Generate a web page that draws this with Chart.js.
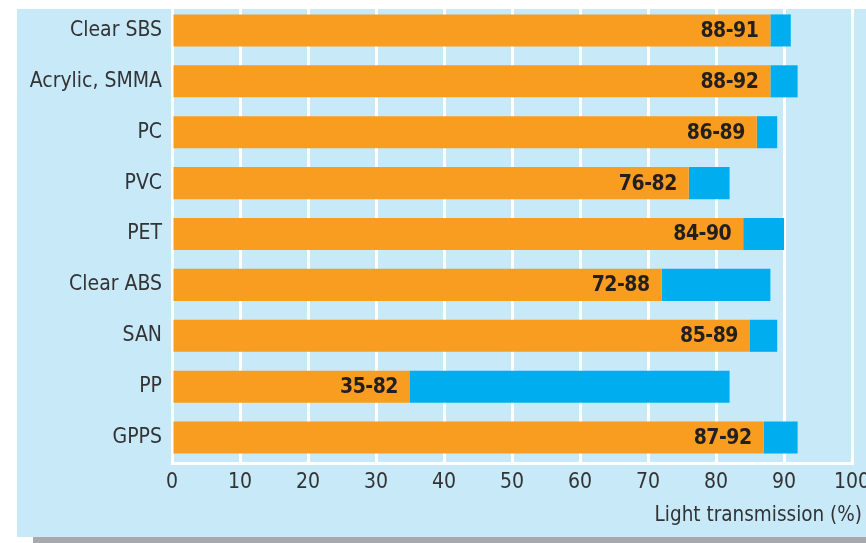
<!DOCTYPE html>
<html>
<head>
<meta charset="utf-8">
<script src="https://cdn.jsdelivr.net/npm/chart.js@4"></script>
<style>
    html, body { margin: 0; padding: 0; background: #fff; overflow: hidden; width: 866px; height: 543px; }
    #panel { position: absolute; left: 17px; top: 9px; width: 870px; height: 528px; background: #c7e9f8; }
    #shadow { position: absolute; left: 33px; top: 537px; width: 860px; height: 6px; background: #a7a9ac; }
    #wrap { position: absolute; left: 0; top: 0; width: 880px; height: 543px; }
</style>
</head>
<body>
<div id="panel"></div>
<div id="shadow"></div>
<div id="wrap"><canvas id="LightChart"></canvas></div>
<script>
const materials = ['Clear SBS', 'Acrylic, SMMA', 'PC', 'PVC', 'PET', 'Clear ABS', 'SAN', 'PP', 'GPPS'];
const lowValues = [88, 88, 86, 76, 84, 72, 85, 35, 87];
const highValues = [91, 92, 89, 82, 90, 88, 89, 82, 92];
const xTicks = [0, 10, 20, 30, 40, 50, 60, 70, 80, 90, 100];

const FONT = '"DejaVu Sans Condensed", "Liberation Sans Narrow", sans-serif';

// range labels like "88-91" drawn at the end of the orange bar
const rangeLabels = {
    id: 'rangeLabels',
    afterDatasetsDraw(chart) {
        const ctx = chart.ctx;
        const x = chart.scales.x;
        const meta = chart.getDatasetMeta(0);
        ctx.save();
        ctx.font = 'bold 21px ' + FONT;
        ctx.letterSpacing = '-0.5px';
        ctx.fillStyle = '#231f20';
        ctx.textAlign = 'right';
        ctx.textBaseline = 'middle';
        meta.data.forEach(function(bar, i) {
            ctx.fillText(lowValues[i] + '-' + highValues[i], x.getPixelForValue(lowValues[i]) - 12, bar.y + 1);
        });
        // axis title, right aligned
        ctx.font = '20.5px ' + FONT;
        ctx.letterSpacing = '0px';
        ctx.fillStyle = '#333';
        ctx.fillText('Light transmission (%)', 862, 516);
        ctx.restore();
    }
};

new Chart(document.getElementById('LightChart'), {
    type: 'bar',
    data: {
        labels: materials,
        datasets: [{
            label: 'Low',
            data: lowValues,
            backgroundColor: '#f89d1f',
            barPercentage: 0.63,
            categoryPercentage: 1
        }, {
            label: 'High',
            data: highValues.map(function(h, i) { return h - lowValues[i]; }),
            backgroundColor: '#00aeef',
            barPercentage: 0.63,
            categoryPercentage: 1
        }]
    },
    options: {
        indexAxis: 'y',
        responsive: true,
        maintainAspectRatio: false,
        animation: false,
        layout: { padding: { left: 0, right: 28, top: 5, bottom: 0 } },
        plugins: {
            legend: { display: false },
            tooltip: { enabled: false }
        },
        scales: {
            x: {
                stacked: true,
                min: 0,
                max: 100,
                afterBuildTicks: function(scale) {
                    scale.ticks = xTicks.map(function(v) { return { value: v }; });
                },
                grid: { color: '#ffffff', lineWidth: 3, drawTicks: false },
                border: { color: '#ffffff', width: 3 },
                ticks: { color: '#333', font: { family: FONT, size: 21 }, padding: 7 },
                afterFit: function(scale) { scale.height = 80; }
            },
            y: {
                stacked: true,
                grid: { display: false, drawTicks: false },
                border: { color: '#ffffff', width: 3 },
                ticks: { color: '#333', font: { family: FONT, size: 21 }, padding: 10 },
                afterFit: function(scale) {
                    scale.width = 172;
                    scale.paddingTop = 0;
                    scale.paddingBottom = 0;
                }
            }
        }
    },
    plugins: [rangeLabels]
});
</script>
</body>
</html>
